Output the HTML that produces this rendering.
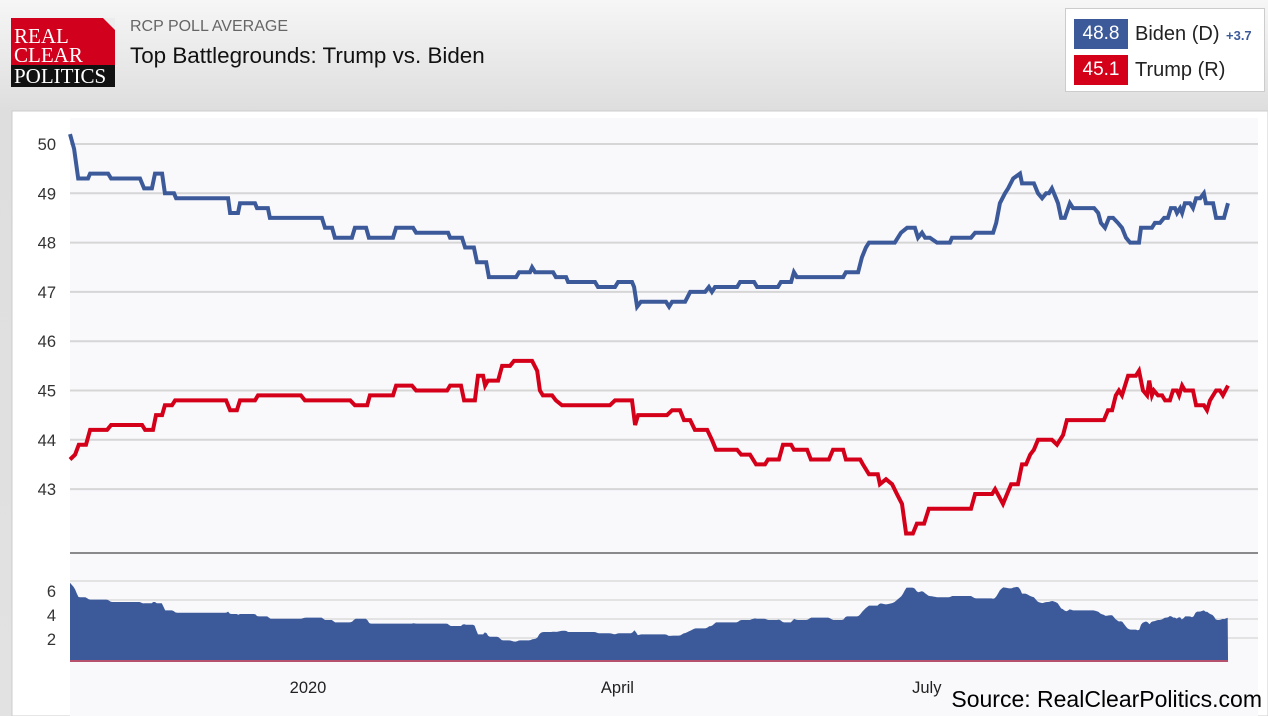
<!DOCTYPE html>
<html><head><meta charset="utf-8">
<style>
body{margin:0;width:1268px;height:716px;overflow:hidden;font-family:"Liberation Sans",sans-serif;background:linear-gradient(#f6f6f6,#dedede 110px,#e2e2e2);position:relative}
.abs{position:absolute}
</style></head><body>
<div class="abs" style="left:11px;top:18px;width:104px;height:69px;background:#d1001c;">
  <div style="position:absolute;right:0;top:0;width:12px;height:12px;background:#ececec;clip-path:polygon(0 0,100% 0,100% 100%);"></div>
  <div style="position:absolute;left:3px;top:9px;color:#fff;font-family:'Liberation Serif',serif;font-size:21px;line-height:19px;">REAL<br>CLEAR</div>
  <div style="position:absolute;left:0;bottom:0;width:104px;height:22px;background:#111;color:#fff;font-family:'Liberation Serif',serif;font-size:21px;line-height:22px;padding-left:3px;box-sizing:border-box">POLITICS</div>
</div>
<div class="abs" style="left:130px;top:18px;font-size:16px;color:#666">RCP POLL AVERAGE</div>
<div class="abs" style="left:130px;top:43px;font-size:22.4px;color:#111">Top Battlegrounds: Trump vs. Biden</div>
<div class="abs" style="left:1065px;top:8px;width:200px;height:84px;background:#fff;border:1px solid #ccc;box-sizing:border-box">
  <div style="position:absolute;left:8px;top:10px;height:30px;width:190px">
    <div style="position:absolute;left:0;top:0;width:54px;height:30px;background:#3c5a9a;color:#fff;font-size:19px;line-height:30px;text-align:center">48.8</div>
    <div style="position:absolute;left:61px;top:4px;font-size:20px;color:#222">Biden (D)</div>
    <div style="position:absolute;left:152px;top:9px;font-size:13px;color:#3c5a9a;font-weight:bold">+3.7</div>
  </div>
  <div style="position:absolute;left:8px;top:46px;height:30px;width:190px">
    <div style="position:absolute;left:0;top:0;width:54px;height:30px;background:#d4001a;color:#fff;font-size:19px;line-height:30px;text-align:center">45.1</div>
    <div style="position:absolute;left:61px;top:4px;font-size:20px;color:#222">Trump (R)</div>
  </div>
</div>
<svg class="abs" style="left:0;top:0" width="1268" height="716">
  <rect x="12" y="111" width="1256" height="605" fill="#fff" stroke="#ccc"/>
  <rect x="70" y="118" width="1188" height="598" fill="#f9f9fc"/>
  <g id="grid"></g><g id="lower"></g><g id="lines"></g><g id="labels"></g>
  <text x="1262" y="707" text-anchor="end" font-size="23" fill="#000">Source: RealClearPolitics.com</text>
</svg>
<script>
const yTicks=[50,49,48,47,46,45,44,43];
const lowTicks=[6,4,2];
const xTickDays=[70,161,252];
const xTickLabels=["2020","April","July"];
const bidenDays=[0,1.2,2.4,5.3,5.9,11.2,12.1,20.6,21.8,24.1,25,27.1,27.9,30.6,31.2,46.5,47.1,49.4,50,54.4,55,58.2,58.8,74.1,75,77.1,77.9,82.9,83.8,87.1,87.9,95,95.9,100.9,101.8,111.2,111.8,115.3,116.2,118.8,119.7,122.4,123.2,131.2,132.1,135.3,135.9,136.8,142.1,142.9,145.9,146.5,154.4,155.3,160.3,161.2,165.3,165.9,166.8,167.9,175.3,176.2,177.1,180.9,182.4,186.8,187.9,188.8,189.7,196.2,197.1,201.2,202.1,208.2,209.1,212.1,212.9,213.8,227.4,228.2,231.8,232.9,234.1,235,238.2,242.6,244.4,246.2,248.5,249.4,250.6,251.5,252.9,255,258.8,259.4,265,266.2,271.5,272.4,273.5,275,275.9,277.4,279.4,280,283.5,284.7,285.9,287.1,287.9,288.8,290,290.6,291.5,292.6,294.1,295,301.2,302.4,303.2,304.4,305.6,306.8,308.2,309.4,310.6,311.8,314.4,315,318.2,319.1,320.6,321.8,322.9,323.8,325,325.6,326.5,327.1,327.9,329.4,330.3,331.2,332.4,333.5,334.1,336.2,337.1,339.4,340.6];
const bidenVals=[50.2,49.9,49.3,49.3,49.4,49.4,49.3,49.3,49.1,49.1,49.4,49.4,49.0,49.0,48.9,48.9,48.6,48.6,48.8,48.8,48.7,48.7,48.5,48.5,48.3,48.3,48.1,48.1,48.3,48.3,48.1,48.1,48.3,48.3,48.2,48.2,48.1,48.1,47.9,47.9,47.6,47.6,47.3,47.3,47.4,47.4,47.5,47.4,47.4,47.3,47.3,47.2,47.2,47.1,47.1,47.2,47.2,47.1,46.7,46.8,46.8,46.7,46.8,46.8,47.0,47.0,47.1,47.0,47.1,47.1,47.2,47.2,47.1,47.1,47.2,47.2,47.4,47.3,47.3,47.4,47.4,47.7,47.9,48.0,48.0,48.0,48.2,48.3,48.3,48.1,48.2,48.1,48.1,48.0,48.0,48.1,48.1,48.2,48.2,48.4,48.8,49.0,49.1,49.3,49.4,49.2,49.2,49.0,48.9,49.0,49.0,49.1,48.9,48.8,48.5,48.5,48.8,48.7,48.7,48.6,48.4,48.3,48.5,48.5,48.4,48.3,48.1,48.0,48.0,48.3,48.3,48.4,48.4,48.5,48.5,48.7,48.7,48.6,48.7,48.6,48.8,48.8,48.7,48.9,48.9,49.0,48.8,48.8,48.5,48.5,48.8];
const trumpDays=[0,1.5,2.6,4.7,5.9,10.9,12.1,21.2,22.1,24.4,25.3,27.1,27.9,30,30.9,45.9,47.1,49.1,50,54.4,55.3,67.9,69.1,82.4,83.8,87.4,88.2,95,95.9,100.6,101.8,110.9,111.8,115,115.9,119.1,120,121.5,122.1,122.9,125.9,127.1,129.4,130.6,135.9,137.4,138.2,139.1,141.8,142.9,144.7,158.8,160.3,165.3,166.2,167.1,175.6,177.1,179.4,180.6,182.4,183.8,187.4,188.8,190,196.2,197.4,200,201.8,204.4,205.3,208.5,209.7,212.1,212.9,216.8,217.9,223.2,224.4,227.4,228.2,232.4,233.2,235,237.6,238.2,240,241.8,243.2,244.7,245.9,247.9,249.1,251.2,252.6,265,266.2,271.2,272.1,274.4,276.8,278.8,280,281.2,282.4,283.5,284.7,288.8,290.3,292.1,293.2,304.1,305.3,306.5,307.6,308.5,309.4,311.2,313.5,314.4,315.6,316.8,317.4,318.2,318.8,320,321.2,322.1,323.5,324.4,325.6,326.2,327.1,327.9,330.3,331.2,333.5,334.4,335.3,337.1,338.2,339.1,340.6];
const trumpVals=[43.6,43.7,43.9,43.9,44.2,44.2,44.3,44.3,44.2,44.2,44.5,44.5,44.7,44.7,44.8,44.8,44.6,44.6,44.8,44.8,44.9,44.9,44.8,44.8,44.7,44.7,44.9,44.9,45.1,45.1,45.0,45.0,45.1,45.1,44.8,44.8,45.3,45.3,45.1,45.2,45.2,45.5,45.5,45.6,45.6,45.4,45.0,44.9,44.9,44.8,44.7,44.7,44.8,44.8,44.3,44.5,44.5,44.6,44.6,44.4,44.4,44.2,44.2,44.0,43.8,43.8,43.7,43.7,43.5,43.5,43.6,43.6,43.9,43.9,43.8,43.8,43.6,43.6,43.8,43.8,43.6,43.6,43.5,43.3,43.3,43.1,43.2,43.1,42.9,42.7,42.1,42.1,42.3,42.3,42.6,42.6,42.9,42.9,43.0,42.7,43.1,43.1,43.5,43.5,43.7,43.8,44.0,44.0,43.9,44.1,44.4,44.4,44.6,44.6,44.9,45.0,44.9,45.3,45.3,45.4,45.0,44.9,45.2,44.9,45.0,44.9,44.9,44.8,44.8,45.0,45.0,44.9,45.1,45.0,45.0,44.7,44.7,44.6,44.8,45.0,45.0,44.9,45.1];

const NS='http://www.w3.org/2000/svg';
const xS=d=>70+d*3.4;
const yS=v=>144+(50-v)*49.3;
const yL=v=>662-v*12;
function mk(tag,attrs,parent){const e=document.createElementNS(NS,tag);for(const k in attrs)e.setAttribute(k,attrs[k]);document.getElementById(parent).appendChild(e);return e;}
yTicks.forEach(v=>{
  const g=mk('line',{x1:70,x2:1258,y1:yS(v),y2:yS(v),stroke:'#d6d6d6','stroke-width':2},'grid');
  
  
  const t=mk('text',{x:56,y:yS(v)+6,'text-anchor':'end','font-size':16.5,fill:'#333'},'labels');
  t.textContent=v;
  
  
});
[581,600,619,638].forEach(y=>{
  const g=mk('line',{x1:70,x2:1258,y1:y,y2:y,stroke:'#dcdcdc','stroke-width':1.5},'grid');
  
  
});
const dv=mk('line',{x1:70,x2:1258,y1:553,y2:553,stroke:'#666','stroke-width':1.5},'grid');


lowTicks.forEach(v=>{
  const t=mk('text',{x:56,y:yL(v)+7,'text-anchor':'end','font-size':16.5,fill:'#333'},'labels');
  t.textContent=v;
  
  
});
xTickDays.forEach((d,i)=>{
  const t=mk('text',{x:xS(d),y:693,'text-anchor':'middle','font-size':16.5,fill:'#222'},'labels');
  t.textContent=xTickLabels[i];
  
  
});
function interp(ds,vs,d){if(d<=ds[0])return vs[0];for(let i=1;i<ds.length;i++){if(d<=ds[i]){const f=(d-ds[i-1])/((ds[i]-ds[i-1])||1);return vs[i-1]+f*(vs[i]-vs[i-1]);}}return vs[vs.length-1];}
const end=Math.min(bidenDays[bidenDays.length-1],trumpDays[trumpDays.length-1]);
let p='M'+xS(0)+','+yL(0);
for(let d=0;d<=end;d+=0.5){p+=' L'+xS(d).toFixed(1)+','+yL(interp(bidenDays,bidenVals,d)-interp(trumpDays,trumpVals,d)).toFixed(1);}
p+=' L'+xS(end)+','+yL(0)+' Z';
const ar=mk('path',{d:p,fill:'#3c5a9a'},'lower');


const bl=mk('line',{x1:70,x2:xS(end),y1:yL(0)-1,y2:yL(0)-1,stroke:'#e05060','stroke-width':1.5},'lower');


function line(ds,vs,col,name){
  const pts=ds.map((d,i)=>xS(d).toFixed(1)+','+yS(vs[i]).toFixed(1)).join(' ');
  const l=mk('polyline',{points:pts,fill:'none',stroke:col,'stroke-width':4,'stroke-linejoin':'miter'},'lines');
  
  
}
line(bidenDays,bidenVals,'#3c5a9a','biden-line');
line(trumpDays,trumpVals,'#d4001a','trump-line');
</script>
</body></html>
